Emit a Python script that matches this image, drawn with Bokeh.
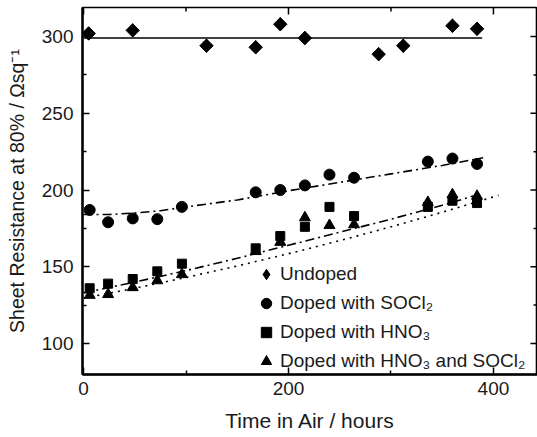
import math
from bokeh.plotting import figure
from bokeh.models import LinearAxis, FixedTicker, Range1d, Legend, LegendItem
from bokeh.embed import file_html
from bokeh.resources import INLINE

# ---- data ----
undoped_t = [5, 48, 120, 168, 192, 216, 288, 312, 360, 384]
undoped_r = [302, 304, 294, 293, 308, 299, 288.5, 294, 307, 305]
undoped_fit_t = [0, 389]
undoped_fit_r = [299, 299]

socl2_t = [6, 24, 48, 72, 96, 168, 192, 216, 240, 264, 336, 360, 384]
socl2_r = [187, 179, 181.5, 181, 189, 198.5, 200, 203, 210, 208, 218.5, 220.5, 217]
socl2_fit_t = [0, 25, 50, 75, 100, 150, 200, 250, 300, 350, 390]
socl2_fit_r = [184, 184, 185, 186.5, 189, 193.5, 199.5, 205, 210.5, 216, 221]

hno3_t = [6, 24, 48, 72, 96, 168, 192, 216, 240, 264, 336, 360, 384]
hno3_r = [136, 139, 142, 147, 152, 162, 170, 176, 189, 183, 189, 193, 191.5]
hno3_fit_t = [0, 50, 100, 150, 200, 250, 300, 350, 390]
hno3_fit_r = [133, 140, 147.5, 155.5, 164, 172.5, 181, 190, 198]

both_t = [6, 24, 48, 72, 96, 168, 192, 216, 240, 264, 336, 360, 384]
both_r = [131.5, 132, 136.5, 141, 145, 160, 166, 182, 177, 177.5, 192, 197, 196]
both_fit_t = [0, 50, 100, 150, 200, 250, 300, 350, 405]
both_fit_r = [129.5, 136, 143, 150.5, 158.5, 167, 176, 185.5, 196.5]

x_ticks = [0, 200, 400]
x_minor = [100, 300]
y_ticks = [100, 150, 200, 250, 300]
y_minor = [125, 175, 225, 275]

labels = ["Undoped", "Doped with SOCl\u2082", "Doped with HNO\u2083",
          "Doped with HNO\u2083 and SOCl\u2082"]
x_title = "Time in Air / hours"
y_title = "Sheet Resistance at 80% / \u03A9sq\u207B\u00B9"

FONT = "Liberation Sans"
INK = "#1a1a1a"
X_LO, X_HI = -1, 443
Y_LO, Y_HI = 79.8, 318.9

p = figure(width=537, height=437, output_backend="svg", toolbar_location=None,
           x_range=Range1d(X_LO, X_HI), y_range=Range1d(Y_LO, Y_HI),
           min_border_left=82, min_border_right=0, min_border_top=7,
           min_border_bottom=63, x_axis_location=None, y_axis_location=None)
p.grid.visible = False
p.outline_line_color = "black"
p.outline_line_width = 1.6
p.background_fill_color = "white"
p.border_fill_color = "white"


def style_axis(ax, ticks, minor, title_size):
    ax.ticker = FixedTicker(ticks=ticks, minor_ticks=minor)
    ax.axis_line_color = "black"
    ax.axis_line_width = 2.4
    ax.major_tick_in = 7
    ax.major_tick_out = 0
    ax.minor_tick_in = 4
    ax.minor_tick_out = 0
    ax.major_tick_line_width = 1.5
    ax.minor_tick_line_width = 1.5
    ax.major_tick_line_color = "black"
    ax.minor_tick_line_color = "black"
    ax.major_label_text_font = FONT
    ax.major_label_text_font_size = "19px"
    ax.major_label_text_color = INK
    ax.axis_label_text_font = FONT
    ax.axis_label_text_font_style = "normal"
    ax.axis_label_text_font_size = title_size
    ax.axis_label_text_color = INK


bottom = LinearAxis(axis_label=x_title)
style_axis(bottom, x_ticks, x_minor, "21px")
bottom.major_label_standoff = 7
bottom.axis_label_standoff = 11
p.add_layout(bottom, "below")

left = LinearAxis(axis_label=y_title)
style_axis(left, y_ticks, y_minor, "19.5px")
left.major_label_standoff = 9
left.axis_label_standoff = 11
p.add_layout(left, "left")

# inward ticks on the top and right frame edges
p.ray(x=x_ticks, y=[Y_HI] * len(x_ticks), length=7, angle=-math.pi / 2,
      length_units="screen", line_color="black", line_width=1.5)
p.ray(x=x_minor, y=[Y_HI] * len(x_minor), length=4, angle=-math.pi / 2,
      length_units="screen", line_color="black", line_width=1.5)
p.ray(x=[X_HI] * len(y_ticks), y=y_ticks, length=7, angle=math.pi,
      length_units="screen", line_color="black", line_width=1.5)
p.ray(x=[X_HI] * len(y_minor), y=y_minor, length=4, angle=math.pi,
      length_units="screen", line_color="black", line_width=1.5)

# fit lines
p.line(undoped_fit_t, undoped_fit_r, line_color="black", line_width=1.6)
p.line(socl2_fit_t, socl2_fit_r, line_color="black", line_width=1.6,
       line_dash="9 4 2 4")
p.line(hno3_fit_t, hno3_fit_r, line_color="black", line_width=1.6,
       line_dash="9 4 2 4")
p.line(both_fit_t, both_fit_r, line_color="black", line_width=1.6,
       line_dash="2 5")

# markers: the undoped diamonds are squares turned by 45 degrees; a plain
# diamond marker underneath them serves as the legend key
r1 = p.scatter(undoped_t, undoped_r, marker="diamond", size=13,
               fill_color="black", line_color="black")
p.scatter(undoped_t, undoped_r, marker="square", size=9.5,
          angle=math.pi / 4, fill_color="black", line_color="black")
r2 = p.scatter(socl2_t, socl2_r, marker="circle", size=11,
               fill_color="black", line_color="black")
r3 = p.scatter(hno3_t, hno3_r, marker="square", size=9,
               fill_color="black", line_color="black")
r4 = p.scatter(both_t, both_r, marker="triangle", size=11,
               fill_color="black", line_color="black")

legend = Legend(items=[LegendItem(label=labels[0], renderers=[r1]),
                       LegendItem(label=labels[1], renderers=[r2]),
                       LegendItem(label=labels[2], renderers=[r3]),
                       LegendItem(label=labels[3], renderers=[r4])],
                location=(171, 0), background_fill_alpha=0,
                border_line_color=None, padding=0, margin=0,
                spacing=3, label_height=26, glyph_width=26, glyph_height=26,
                label_standoff=1, label_text_font=FONT,
                label_text_font_size="19px", label_text_color=INK)
p.add_layout(legend, "center")

open("out.html", "w").write(file_html(p, INLINE))
